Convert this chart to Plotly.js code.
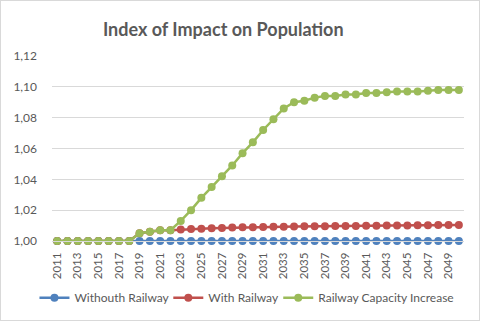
<!DOCTYPE html>
<html>
<head>
<meta charset="utf-8">
<script src="https://cdn.plot.ly/plotly-3.0.1.min.js"></script>
<style>
  body { margin: 0; background: #fff; }
  #chart { width: 478px; height: 319px; border: 1px solid #d9d9d9; }
</style>
</head>
<body>
<div id="chart"></div>
<script>
// years 2011 - 2050
var years = [];
for (var y = 2011; y <= 2050; y++) years.push(y);

var withoutRailway = [
  1.000, 1.000, 1.000, 1.000, 1.000, 1.000, 1.000, 1.000, 1.000, 1.000,
  1.000, 1.000, 1.000, 1.000, 1.000, 1.000, 1.000, 1.000, 1.000, 1.000,
  1.000, 1.000, 1.000, 1.000, 1.000, 1.000, 1.000, 1.000, 1.000, 1.000,
  1.000, 1.000, 1.000, 1.000, 1.000, 1.000, 1.000, 1.000, 1.000, 1.000
];
var withRailway = [
  1.000, 1.000, 1.000, 1.000, 1.000, 1.000, 1.000, 1.000, 1.005, 1.006,
  1.007, 1.007, 1.0074, 1.0078, 1.008, 1.0082, 1.0085, 1.0087, 1.0089, 1.009,
  1.0091, 1.0092, 1.0093, 1.0094, 1.0095, 1.0096, 1.0096, 1.0097, 1.0098, 1.0098,
  1.0099, 1.0099, 1.0100, 1.0100, 1.0101, 1.0102, 1.0102, 1.0103, 1.0103, 1.0104
];
var capacityIncrease = [
  1.000, 1.000, 1.000, 1.000, 1.000, 1.000, 1.000, 1.000, 1.005, 1.006,
  1.007, 1.007, 1.013, 1.020, 1.028, 1.035, 1.042, 1.049, 1.057, 1.064,
  1.072, 1.079, 1.086, 1.090, 1.091, 1.093, 1.094, 1.094, 1.095, 1.095,
  1.096, 1.096, 1.0965, 1.097, 1.097, 1.097, 1.0975, 1.098, 1.098, 1.098
];
var tickYears = years.filter(function(y) { return y % 2 === 1; });

function series(name, vals, color, legendId) {
  return {
    x: years, y: vals, name: name, type: "scatter", mode: "lines+markers",
    line: {color: color, width: 2.5},
    marker: {color: color, size: 8},
    cliponaxis: false,
    legend: legendId
  };
}

var data = [
  series("Withouth Railway", withoutRailway, "#4f81bd", "legend"),
  series("With Railway", withRailway, "#c0504d", "legend2"),
  series("Railway Capacity Increase", capacityIncrease, "#9bbb59", "legend3")
];

// one legend per series so the row keeps the reference spacing
function legendAt(x) {
  return {
    orientation: "h", xref: "container", yref: "container",
    x: x, xanchor: "left", y: 0.07, yanchor: "middle",
    font: {size: 12, color: "#595959"}, itemwidth: 30,
    bgcolor: "rgba(0,0,0,0)"
  };
}

var layout = {
  width: 478, height: 319,
  margin: {l: 51, r: 15, t: 55, b: 79},
  separators: ",.",
  font: {family: "Lato, sans-serif", size: 11, color: "#595959"},
  paper_bgcolor: "#fff", plot_bgcolor: "#fff",
  title: {
    text: "<b>Index of Impact on Population</b>",
    font: {size: 18, color: "#595959"},
    x: 0.465, xanchor: "center", y: 0.91, yanchor: "middle", yref: "container"
  },
  xaxis: {
    range: [2010.5, 2050.5],
    tickvals: tickYears, ticktext: tickYears.map(String),
    tickangle: -90, showgrid: false, zeroline: false,
    showline: true, linecolor: "#d9d9d9",
    ticks: "", ticklabelstandoff: 6,
    tickfont: {size: 11.5, color: "#595959"}
  },
  yaxis: {
    range: [1.0, 1.12], dtick: 0.02, tickformat: ".2f",
    gridcolor: "#d9d9d9", zeroline: false, showline: false,
    ticks: "", ticklabelstandoff: 14,
    tickfont: {size: 12, color: "#595959"}
  },
  legend: legendAt(0.07),
  legend2: legendAt(0.35),
  legend3: legendAt(0.58),
  showlegend: true
};

Plotly.newPlot("chart", data, layout, {displayModeBar: false, staticPlot: true});
</script>
</body>
</html>
